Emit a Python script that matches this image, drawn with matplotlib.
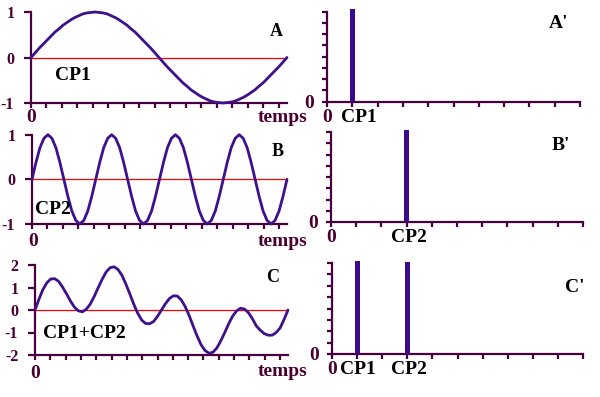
import numpy as np
import matplotlib
matplotlib.use("Agg")
import matplotlib.pyplot as plt

# ---- data (65 samples across each time axis) ----
cp1 = [0, .10, .20, .29, .38, .47, .56, .63, .71, .77, .83, .88, .92, .96, .98, .99, 1.00,
       .99, .98, .96, .92, .88, .83, .77, .71, .63, .56, .47, .38, .29, .20, .10, 0,
       -.10, -.20, -.29, -.38, -.47, -.56, -.63, -.71, -.77, -.83, -.88, -.92, -.96, -.98, -.99, -1.00,
       -.99, -.98, -.96, -.92, -.88, -.83, -.77, -.71, -.63, -.56, -.47, -.38, -.29, -.20, -.10, 0]
cp2 = ([0, .38, .71, .92, 1, .92, .71, .38, 0, -.38, -.71, -.92, -1, -.92, -.71, -.38] * 4) + [0]
cp12 = [0, .48, .91, 1.21, 1.38, 1.39, 1.27, 1.01, .71, .39, .12, -.04, -.08, .04, .27, .61, 1.00,
        1.37, 1.69, 1.88, 1.92, 1.80, 1.54, 1.15, .71, .25, -.15, -.45, -.60, -.61, -.51, -.28, 0,
        .28, .51, .63, .62, .45, .15, -.25, -.71, -1.15, -1.54, -1.80, -1.92, -1.88, -1.69, -1.37, -1.00,
        -.61, -.27, -.04, .08, .04, -.12, -.39, -.71, -.90, -1.05, -1.12, -1.12, -1.00, -.80, -.42, 0]

# spectra: position (in tick units) and amplitude
specA_pos = [1]
specA_amp = [8.2]
specB_pos = [3]
specB_amp = [8.2]
specC_pos = [1, 3]
specC_amp = [8.15, 8.1]

left_letters = ["A", "B", "C"]
right_letters = ["A'", "B'", "C'"]
curve_labels = ["CP1", "CP2", "CP1+CP2"]
left_yticks = [[-1, 0, 1], [-1, 0, 1], [-2, -1, 0, 1, 2]]
spec_xlabels = [[(0, "0"), (1.25, "CP1")], [(0, "0"), (3.1, "CP2")],
                [(0, "0"), (1.05, "CP1"), (3.05, "CP2")]]

# ---- styling ----
FONT = "Liberation Serif"
SPINE = "#48003f"
CURVE = "#3f108c"
BAR = "#3c0a8c"
LAB = "#4a0030"

W, H = 600, 397
fig = plt.figure(figsize=(6.0, 3.97), dpi=100)
fig.patch.set_facecolor("white")


def box(l, r, t, b):
    return [l / W, 1 - b / H, (r - l) / W, (b - t) / H]


left_boxes = [box(31, 287, 12, 103), box(32, 287, 134.7, 224), box(35, 288, 265, 355)]
right_boxes = [box(327, 580, 11.7, 101.7), box(331, 583, 132, 222), box(332, 583, 263, 354)]
left_ylim = [(-1, 1), (-1, 1), (-2, 2)]
curves = [cp1, cp2, cp12]
specs = [(specA_pos, specA_amp), (specB_pos, specB_amp), (specC_pos, specC_amp)]

# label positions in pixels
letter_px = [(276, 31), (278, 152), (273, 277)]
clabel_px = [(55, 75), (35, 209), (43, 334)]
temps_y = [118, 241, 372]
zero_px = [(31, 118), (33, 241), (35, 373)]
rletter_px = [(549, 23), (552, 146), (565, 287)]
rxlab_y = [117, 238, 369]

for i in range(3):
    ax = fig.add_axes(left_boxes[i])
    xmax = 16.52
    t = np.linspace(0, xmax, len(curves[i]))
    ax.plot(t, curves[i], color=CURVE, lw=2.0, solid_capstyle="round", clip_on=False, zorder=3)
    ax.plot([0, xmax], [0, 0], color="#ff0000", lw=0.9, zorder=2)
    ax.set_xlim(0, xmax)
    ax.set_ylim(*left_ylim[i])
    for s in ["top", "right"]:
        ax.spines[s].set_visible(False)
    for s in ["left", "bottom"]:
        ax.spines[s].set_color(SPINE)
        ax.spines[s].set_linewidth(1.6)
    ax.set_xticks(np.arange(0, 17))
    ax.set_xticklabels([])
    ax.tick_params(axis="x", direction="out", length=3.8, width=1.6, color=SPINE)
    ax.set_yticks(left_yticks[i])
    ax.set_yticklabels([str(v) for v in left_yticks[i]], fontfamily=FONT,
                       fontweight="bold", fontsize=11.5, color=LAB)
    ax.tick_params(axis="y", direction="out", length=5, width=1.6, color=SPINE, pad=7)
    ax.patch.set_alpha(0)

    fig.text(letter_px[i][0] / W, 1 - letter_px[i][1] / H, left_letters[i],
             ha="center", va="center", fontfamily=FONT, fontweight="bold", fontsize=13, color="black")
    fig.text(clabel_px[i][0] / W, 1 - clabel_px[i][1] / H, curve_labels[i],
             ha="left", va="center", fontfamily=FONT, fontweight="bold", fontsize=14, color="black")
    fig.text(258 / W, 1 - temps_y[i] / H, "temps", ha="left", va="center",
             fontfamily=FONT, fontweight="bold", fontsize=14, color=LAB)
    fig.text(zero_px[i][0] / W, 1 - zero_px[i][1] / H, "0", ha="center", va="center",
             fontfamily=FONT, fontweight="bold", fontsize=14, color=LAB)

for i in range(3):
    ax = fig.add_axes(right_boxes[i])
    pos, amp = specs[i]
    ax.bar(pos, amp, width=0.2, color=BAR, clip_on=False, zorder=3)
    ax.set_xlim(0, 10)
    ax.set_ylim(0, 8)
    for s in ["top", "right"]:
        ax.spines[s].set_visible(False)
    for s in ["left", "bottom"]:
        ax.spines[s].set_color(SPINE)
        ax.spines[s].set_linewidth(1.6)
    ax.set_xticks(np.arange(0, 11))
    ax.set_xticklabels([])
    ax.tick_params(axis="x", direction="out", length=3.5, width=1.6, color=SPINE)
    ax.set_yticks(np.arange(0, 9))
    ax.set_yticklabels(["0"] + [""] * 8, fontfamily=FONT, fontweight="bold", fontsize=14, color=LAB)
    ax.tick_params(axis="y", direction="out", length=3.5, width=1.6, color=SPINE, pad=6)
    ax.patch.set_alpha(0)
    for xv, lab in spec_xlabels[i]:
        ax.text(xv, 0, lab, transform=ax.get_xaxis_transform(), ha="center", va="center",
                fontfamily=FONT, fontweight="bold", fontsize=14,
                color=LAB if lab == "0" else "black")
    # move labels to the measured pixel height
    for txt in ax.texts:
        txt.set_transform(matplotlib.transforms.blended_transform_factory(ax.transData, fig.transFigure))
        txt.set_y(1 - rxlab_y[i] / H)
    fig.text(rletter_px[i][0] / W, 1 - rletter_px[i][1] / H, right_letters[i],
             ha="left", va="center", fontfamily=FONT, fontweight="bold", fontsize=14, color="black")

fig.savefig("out.png", dpi=100, facecolor="white")
